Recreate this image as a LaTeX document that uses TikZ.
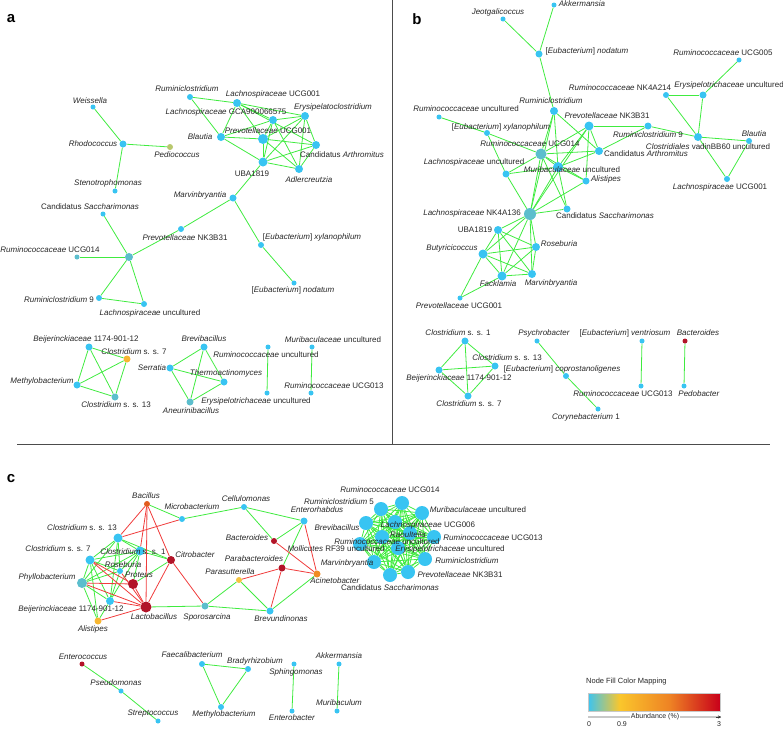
\documentclass[tikz,border=0pt]{standalone}
\usepackage{fontspec}
\setmainfont{Liberation Sans}
\usetikzlibrary{arrows.meta}

\definecolor{nb}{RGB}{56,196,242}
\definecolor{nt}{RGB}{92,190,205}
\definecolor{ng}{RGB}{185,200,110}
\definecolor{no}{RGB}{247,183,50}
\definecolor{nr}{RGB}{178,20,40}
\definecolor{nbac}{RGB}{226,92,30}
\definecolor{nac}{RGB}{240,140,35}
\definecolor{ny}{RGB}{244,196,64}
\definecolor{eg}{RGB}{64,235,64}
\definecolor{er}{RGB}{240,60,60}
\definecolor{lgr}{RGB}{200,200,200}
\definecolor{sh1}{RGB}{60,196,240}
\definecolor{sh2}{RGB}{250,198,44}
\definecolor{sh3}{RGB}{238,130,36}
\definecolor{sh4}{RGB}{200,0,26}

\pgfdeclarelayer{background}
\pgfdeclarelayer{foreground}
\pgfsetlayers{background,main,foreground}
% tikz maps 25bp..75bp of the shading onto the filled path
\pgfdeclarehorizontalshading{abund}{100bp}{color(0bp)=(sh1); color(25bp)=(sh1); color(37bp)=(sh2); color(56bp)=(sh3); color(75bp)=(sh4); color(100bp)=(sh4)}

\begin{document}
\begin{tikzpicture}[x=1pt,y=-1pt,
                vertex/.style={circle,inner sep=0pt,draw=none},
                edge/.style={draw=eg,line width=0.8pt},
                neg edge/.style={draw=er,line width=0.8pt},
                lbl/.style={font=\fontsize{8}{9.6}\selectfont,inner sep=0pt,text=black!85},
                panel/.style={font=\fontsize{15}{18}\selectfont\bfseries},
                sep/.style={draw=black!70,line width=0.8pt}
            ]
            \useasboundingbox (0,0) rectangle (783,728);
            % panel letters and separators
            \node[panel] (pa) at (11,19) {a};
            \node[panel] (pb) at (417,19) {b};
            \node[panel] (pc) at (11,479) {c};
            \coordinate (sepT) at (392.5,0);
            \coordinate (sepM) at (392.5,444);
            \coordinate (sepL) at (17,444);
            \coordinate (sepR) at (770,444);
            \draw[sep] (sepT) -- (sepM);
            \draw[sep] (sepL) -- (sepR);
            % First we draw the vertices, their labels go on the foreground layer
            % panel a
            \foreach \pos/\name/\sz/\col/\lp/\txt in {
                {(93,107)/weis/5/nb/(90,101)/\textit{Weissella}},
                {(123,144)/rhod/7/nb/(93,144)/\textit{Rhodococcus}},
                {(170,147)/pedi/6/ng/(177,155)/\textit{Pediococcus}},
                {(115,191)/sten/5/nb/(108,183)/\textit{Stenotrophomonas}},
                {(190,97)/rcl/6/nb/(187,89)/\textit{Ruminiclostridium}},
                {(237,103)/lucg/8/nb/(273,94)/\textit{Lachnospiraceae} UCG001},
                {(273,120)/lgca/8/nb/(226,112)/\textit{Lachnospiraceae} GCA900066575},
                {(305,116)/erys/8/nb/(333,107)/\textit{Erysipelatoclostridium}},
                {(221,137)/blau/8/nb/(200,137)/\textit{Blautia}},
                {(263,139)/pucg/10/nb/(268,131)/\textit{Prevotellaceae} UCG001},
                {(316,145)/arth/8/nb/(342,155)/Candidatus \textit{Arthromitus}},
                {(263,162)/uba/9/nb/(252,174)/UBA1819},
                {(299,169)/adle/8/nb/(309,180)/\textit{Adlercreutzia}},
                {(233,198)/marv/7/nb/(200,195)/\textit{Marvinbryantia}},
                {(103,214)/sacc/5/nb/(90,207)/Candidatus \textit{Saccharimonas}},
                {(181,229)/pnk/6/nb/(185,238)/\textit{Prevotellaceae} NK3B31},
                {(77,257)/r014/5/nt/(50,250)/\textit{Ruminococcaceae} UCG014},
                {(129,257)/hub/8/nt/(129,257)/},
                {(99,298)/r9/6/nb/(59,300)/\textit{Ruminiclostridium} 9},
                {(144,304)/lunc/6/nb/(150,313)/\textit{Lachnospiraceae} uncultured},
                {(261,245)/xyl/6/nb/(312,237)/[\textit{Eubacterium}] \textit{xylanophilum}},
                {(294,283)/noda/5/nb/(293,290)/[\textit{Eubacterium}] \textit{nodatum}},
                {(89,347)/beij/7/nb/(86,339)/\textit{Beijerinckiaceae} 1174-901-12},
                {(127,359)/c7/7/no/(134,352)/\textit{Clostridium} s. s. 7},
                {(77,385)/meth/7/nb/(42,381)/\textit{Methylobacterium}},
                {(115,397)/c13/7/nt/(116,405)/\textit{Clostridium} s. s. 13},
                {(204,347)/brev/7/nb/(204,339)/\textit{Brevibacillus}},
                {(170,368)/serr/7/nb/(152,368)/\textit{Serratia}},
                {(224,382)/ther/7/nb/(226,373)/\textit{Thermoactinomyces}},
                {(190,402)/aneu/7/nt/(191,411)/\textit{Aneurinibacillus}},
                {(268,347)/runc/5/nb/(266,355)/\textit{Ruminococcaceae} uncultured},
                {(267,393)/eunc/5/nb/(256,401)/\textit{Erysipelotrichaceae} uncultured},
                {(312,347)/munc/5/nb/(333,340)/\textit{Muribaculaceae} uncultured},
                {(311,393)/r013/5/nb/(334,386)/\textit{Ruminococcaceae} UCG013}}
                {
                \node[vertex,minimum size=\sz pt,fill=\col] (\name) at \pos {};
                \begin{pgfonlayer}{foreground}
                    \node[lbl] (l\name) at \lp {\txt};
                \end{pgfonlayer}
                }
            % panel b
            \foreach \pos/\name/\sz/\col/\lp/\txt in {
                {(554,5)/bakk/5/nb/(582,4)/\textit{Akkermansia}},
                {(503,19)/bjeo/5/nb/(498,12)/\textit{Jeotgalicoccus}},
                {(539,54)/bnod/7/nb/(587,51)/[\textit{Eubacterium}] \textit{nodatum}},
                {(739,60)/b005/5/nb/(723,53)/\textit{Ruminococcaceae} UCG005},
                {(666,95)/bnk214/6/nb/(620,88)/\textit{Ruminococcaceae} NK4A214},
                {(703,95)/beunc/7/nb/(729,85)/\textit{Erysipelotrichaceae} uncultured},
                {(554,111)/brcl/8/nb/(551,101)/\textit{Ruminiclostridium}},
                {(439,117)/brunc/5/nb/(466,109)/\textit{Ruminococcaceae} uncultured},
                {(589,126)/bpnk/9/nb/(607,116)/\textit{Prevotellaceae} NK3B31},
                {(648,126)/br9/7/nb/(648,135)/\textit{Ruminiclostridium} 9},
                {(487,133)/bxyl/6/nb/(501,127)/[\textit{Eubacterium}] \textit{xylanophilum}},
                {(698,137)/bclo/8/nb/(708,147)/\textit{Clostridiales} vadinBB60 uncultured},
                {(749,141)/bbla/6/nb/(754,134)/\textit{Blautia}},
                {(541,154)/b014/11/nt/(530,144)/\textit{Ruminococcaceae} UCG014},
                {(599,151)/barth/8/nb/(646,154)/Candidatus \textit{Arthromitus}},
                {(506,174)/blunc/7/nb/(474,162)/\textit{Lachnospiraceae} uncultured},
                {(558,167)/bmunc/10/nb/(572,170)/\textit{Muribaculaceae} uncultured},
                {(586,181)/bali/7/nb/(606,179)/\textit{Alistipes}},
                {(727,179)/bucg/6/nb/(720,187)/\textit{Lachnospiraceae} UCG001},
                {(567,209)/bsacc/7/nb/(605,216)/Candidatus \textit{Saccharimonas}},
                {(530,214)/bnk136/12/nt/(472,213)/\textit{Lachnospiraceae} NK4A136},
                {(498,230)/buba/8/nb/(475,230)/UBA1819},
                {(483,254)/bbut/9/nb/(452,248)/\textit{Butyricicoccus}},
                {(536,247)/bros/8/nb/(559,244)/\textit{Roseburia}},
                {(502,276)/bfac/9/nb/(498,284)/\textit{Facklamia}},
                {(532,274)/bmarv/8/nb/(551,283)/\textit{Marvinbryantia}},
                {(460,298)/bpucg/5/nb/(459,306)/\textit{Prevotellaceae} UCG001},
                {(465,341)/bc1/7/nb/(458,333)/\textit{Clostridium} s. s. 1},
                {(495,366)/bc13/7/nb/(507,358)/\textit{Clostridium} s. s. 13},
                {(439,370)/bbeij/7/nb/(459,378)/\textit{Beijerinckiaceae} 1174-901-12},
                {(468,396)/bc7/7/nb/(469,404)/\textit{Clostridium} s. s. 7},
                {(537,341)/bpsy/5/nb/(544,333)/\textit{Psychrobacter}},
                {(566,376)/bcop/6/nb/(562,369)/[\textit{Eubacterium}] \textit{coprostanoligenes}},
                {(598,409)/bcor/5/nb/(586,417)/\textit{Corynebacterium} 1},
                {(642,341)/bven/5/nb/(625,333)/[\textit{Eubacterium}] \textit{ventriosum}},
                {(641,386)/b013/5/nb/(623,394)/\textit{Ruminococcaceae} UCG013},
                {(685,341)/bbac/5/nr/(698,333)/\textit{Bacteroides}},
                {(684,386)/bped/5/nb/(699,394)/\textit{Pedobacter}}}
                {
                \node[vertex,minimum size=\sz pt,fill=\col] (\name) at \pos {};
                \begin{pgfonlayer}{foreground}
                    \node[lbl] (l\name) at \lp {\txt};
                \end{pgfonlayer}
                }
            % panel c
            \foreach \pos/\name/\sz/\col/\lp/\txt in {
                {(147,504)/cbac/6/nbac/(146,496)/\textit{Bacillus}},
                {(182,519)/cmic/6/nb/(192,507)/\textit{Microbacterium}},
                {(244,507)/ccel/6/nb/(246,499)/\textit{Cellulomonas}},
                {(304,521)/cent/7/nb/(317,510)/\textit{Enterorhabdus}},
                {(274,541)/cbct/6/nr/(247,538)/\textit{Bacteroides}},
                {(118,538)/cc13/9/nb/(82,528)/\textit{Clostridium} s. s. 13},
                {(90,560)/cc7/9/nb/(58,549)/\textit{Clostridium} s. s. 7},
                {(140,551)/cc1/9/nb/(133,552)/\textit{Clostridium} s. s. 1},
                {(171,560)/ccit/8/nr/(195,555)/\textit{Citrobacter}},
                {(120,571)/cros/6/nb/(123,565)/\textit{Roseburia}},
                {(133,584)/cpro/10/nr/(139,575)/\textit{Proteus}},
                {(82,583)/cphy/10/nt/(47,577)/\textit{Phyllobacterium}},
                {(110,601)/cbei/8/nb/(71,609)/\textit{Beijerinckiaceae} 1174-901-12},
                {(146,607)/clac/11/nr/(154,617)/\textit{Lactobacillus}},
                {(205,606)/cspo/7/nt/(207,617)/\textit{Sporosarcina}},
                {(239,580)/cpas/6/ny/(230,572)/\textit{Parasutterella}},
                {(282,568)/cpab/7/nr/(254,559)/\textit{Parabacteroides}},
                {(317,574)/caci/7/nac/(335,581)/\textit{Acinetobacter}},
                {(270,611)/cbre/7/nb/(281,619)/\textit{Brevundinonas}},
                {(98,621)/cali/7/no/(93,629)/\textit{Alistipes}},
                {(402,503)/k1/14/nb/(390,490)/\textit{Ruminococcaceae} UCG014},
                {(381,509)/k2/14/nb/(339,502)/\textit{Ruminiclostridium} 5},
                {(422,513)/k3/14/nb/(478,510)/\textit{Muribaculaceae} uncultured},
                {(366,523)/k4/14/nb/(337,528)/\textit{Brevibacillus}},
                {(395,522)/k5/14/nb/(428,525)/\textit{Lachnospiraceae} UCG006},
                {(410,533)/k6/14/nb/(408,535)/\textit{Raoultella}},
                {(434,537)/k7/14/nb/(493,538)/\textit{Ruminococcaceae} UCG013},
                {(382,537)/k8/14/nb/(387,542)/\textit{Ruminococcaceae} uncultured},
                {(360,544)/k9/14/nb/(336,549)/\textit{Mollicutes} RF39 uncultured},
                {(398,548)/k10/14/nb/(450,549)/\textit{Erysipelotrichaceae} uncultured},
                {(425,559)/k11/14/nb/(467,561)/\textit{Ruminiclostridium}},
                {(374,562)/k12/14/nb/(347,563)/\textit{Marvinbryantia}},
                {(408,572)/k13/14/nb/(460,575)/\textit{Prevotellaceae} NK3B31},
                {(390,575)/k14/14/nb/(390,588)/Candidatus \textit{Saccharimonas}},
                {(82,664)/cenc/5/nr/(83,657)/\textit{Enterococcus}},
                {(121,691)/cpse/5/nb/(116,683)/\textit{Pseudomonas}},
                {(158,721)/cstr/5/nb/(153,714)/\textit{Streptococcus}},
                {(202,664)/cfae/6/nb/(192,655)/\textit{Faecalibacterium}},
                {(248,669)/cbra/6/nb/(255,661)/\textit{Bradyrhizobium}},
                {(221,707)/cmet/6/nb/(224,714)/\textit{Methylobacterium}},
                {(294,664)/csph/5/nb/(296,672)/\textit{Sphingomonas}},
                {(292,711)/cebt/5/nb/(292,718)/\textit{Enterobacter}},
                {(339,664)/cakk/5/nb/(339,656)/\textit{Akkermansia}},
                {(337,711)/cmur/5/nb/(339,703)/\textit{Muribaculum}}}
                {
                \node[vertex,minimum size=\sz pt,fill=\col] (\name) at \pos {};
                \begin{pgfonlayer}{foreground}
                    \node[lbl] (l\name) at \lp {\txt};
                \end{pgfonlayer}
                }
            % Connect vertices with edges, kept behind the vertices
            \begin{pgfonlayer}{background}
                \foreach \source/\dest in {weis/rhod, rhod/pedi, rhod/sten,
                    rcl/lucg, rcl/blau, lucg/lgca, lucg/erys, lucg/blau, lucg/pucg, lucg/arth,
                    lgca/erys, lgca/blau, lgca/uba, lgca/adle, lgca/pucg,
                    erys/pucg, erys/arth, erys/adle, erys/uba,
                    blau/pucg, blau/uba, pucg/arth, pucg/uba, pucg/adle,
                    arth/uba, arth/adle, uba/adle, uba/marv,
                    marv/pnk, pnk/hub, marv/xyl, xyl/noda,
                    hub/sacc, hub/r014, hub/r9, hub/lunc, r9/lunc,
                    beij/c7, beij/meth, beij/c13, c7/meth, c7/c13, meth/c13,
                    brev/serr, brev/ther, brev/aneu, serr/ther, serr/aneu, ther/aneu,
                    runc/eunc, munc/r013}
                    \path[edge] (\source) -- (\dest);
                \foreach \source/\dest in {bakk/bnod, bjeo/bnod, bnod/brcl,
                    b005/beunc, bnk214/beunc, bnk214/bclo, beunc/bclo, bclo/bbla, bclo/bucg, bbla/bucg,
                    bclo/br9, br9/bpnk, br9/barth, brunc/bxyl, bxyl/b014, bxyl/blunc,
                    brcl/b014, brcl/bmunc, brcl/bnk136, brcl/barth,
                    bpnk/b014, bpnk/barth, bpnk/bmunc, bpnk/bali, bpnk/bnk136,
                    b014/barth, b014/bmunc, b014/blunc, b014/bali, b014/bnk136, b014/bsacc,
                    barth/bmunc, blunc/bmunc, blunc/bnk136, bmunc/bali, bmunc/bnk136, bmunc/bsacc,
                    bali/bnk136, bnk136/bsacc, bnk136/buba, bnk136/bbut, bnk136/bros, bnk136/bfac, bnk136/bmarv,
                    buba/bbut, buba/bros, buba/bfac, buba/bmarv, bbut/bros, bbut/bfac, bbut/bmarv,
                    bros/bfac, bros/bmarv, bfac/bmarv, bbut/bpucg, bfac/bpucg,
                    bc1/bc13, bc1/bbeij, bc1/bc7, bc13/bbeij, bc13/bc7, bbeij/bc7,
                    bpsy/bcop, bcop/bcor, bven/b013, bbac/bped}
                    \path[edge] (\source) -- (\dest);
                \foreach \source/\dest in {cbac/cmic, cmic/ccel, ccel/cent, ccel/cbct, cent/cbct, cent/cpab,
                    cpas/cspo, cpas/cbre, cspo/clac, cspo/cbre, cbre/caci,
                    cc1/ccit, cc13/ccit, cpro/ccit,
                    cc13/cc7, cc13/cc1, cc13/cros, cc13/cphy, cc13/cbei,
                    cc7/cc1, cc7/cros, cc7/cphy, cc7/cbei, cc7/cali,
                    cc1/cros, cc1/cphy, cc1/cbei, cc1/cpro,
                    cros/cphy, cros/cbei, cphy/cbei, cphy/cali, cbei/cali,
                    cenc/cpse, cpse/cstr, cfae/cbra, cbra/cmet, cmet/cfae, csph/cebt, cakk/cmur}
                    \path[edge] (\source) -- (\dest);
                \foreach \source/\dest in {cbac/cc13, cbac/cc1, cbac/clac, cbac/ccit, cc13/cmic,
                    ccit/clac, ccit/cspo, cbct/caci, cent/caci, cpab/cpas, cpab/caci, cpab/cbre,
                    clac/cc7, clac/cphy, clac/cbei, clac/cali, clac/cros, clac/cpro,
                    cpro/cc7, cpro/cphy}
                    \path[neg edge] (\source) -- (\dest);
                % the dense cluster is fully connected
                \foreach \i in {1,...,13} {
                    \pgfmathtruncatemacro\nexti{\i+1}
                    \foreach \j in {\nexti,...,14}
                        \path[edge] (k\i) -- (k\j);
                }
            \end{pgfonlayer}
            % colour legend
            \node[lbl,anchor=west,font=\fontsize{7.5}{9}\selectfont] (legT) at (586,682) {Node Fill Color Mapping};
            \shade[shading=abund] (588,693) rectangle (720,711);
            \draw[lgr,line width=0.4pt] (588,693) rectangle (720,711);
            \coordinate (axL) at (588,717);
            \coordinate (axR) at (721,717);
            \draw[lgr,line width=1.4pt] (axL) -- (axR);
            \draw[-{Stealth[length=3pt,width=3pt]},black!80,line width=0.4pt] (716,717) -- (axR);
            \node[lbl,fill=white,inner xsep=1pt,font=\fontsize{7}{8}\selectfont] (axT) at (655,717) {Abundance (\%)};
            \node[lbl,font=\fontsize{7}{8}\selectfont] (t0) at (589,724) {0};
            \node[lbl,font=\fontsize{7}{8}\selectfont] (t09) at (622,724) {0.9};
            \node[lbl,font=\fontsize{7}{8}\selectfont] (t3) at (719,724) {3};
        \end{tikzpicture}
\end{document}
